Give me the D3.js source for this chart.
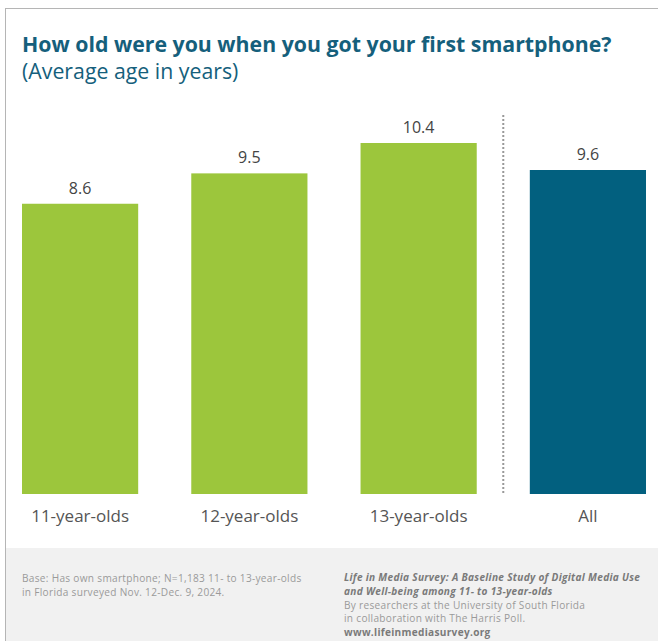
<!DOCTYPE html>
<html>
<head>
<meta charset="utf-8">
<script src="https://cdn.jsdelivr.net/npm/d3@7"></script>
<style>
  html, body { margin: 0; padding: 0; background: #fff; }
  svg { display: block; font-family: "Open Sans", sans-serif; }
</style>
</head>
<body>
<svg id="chart" width="658" height="641"></svg>
<script>
// Average age at first smartphone, by age group
const categories = ["11-year-olds", "12-year-olds", "13-year-olds", "All"];
const values = [8.6, 9.5, 10.4, 9.6];
const barColors = ["#9cc63c", "#9cc63c", "#9cc63c", "#02607f"];

const titleText = "How old were you when you got your first smartphone?";
const subtitleText = "(Average age in years)";
const noteLines = ["Base: Has own smartphone; N=1,183 11- to 13-year-olds",
                   "in Florida surveyed Nov. 12-Dec. 9, 2024."];
const sourceLines = [
  {t: "Life in Media Survey: A Baseline Study of Digital Media Use", s: "bold"},
  {t: "and Well-being among 11- to 13-year-olds", s: "bold"},
  {t: "By researchers at the University of South Florida", s: "plain"},
  {t: "in collaboration with The Harris Poll.", s: "plain"},
  {t: "www.lifeinmediasurvey.org", s: "url"}
];

const W = 658, H = 641;
const svg = d3.select("#chart");

// frame
svg.append("rect").attr("x", 5.5).attr("y", 8.5).attr("width", W).attr("height", H)
  .attr("fill", "#fff").attr("stroke", "#b5b5b5").attr("stroke-width", 1);

// footer band
svg.append("rect").attr("x", 6).attr("y", 548).attr("width", W - 6).attr("height", H - 548)
  .attr("fill", "#f1f1f1");

// title
svg.append("text").attr("x", 22).attr("y", 52)
  .attr("font-size", 21.3).attr("font-weight", 700).attr("fill", "#155f7c")
  .text(titleText);
svg.append("text").attr("x", 22).attr("y", 79)
  .attr("font-size", 21.3).attr("fill", "#155f7c")
  .text(subtitleText);

// scales
const x = d3.scaleBand().domain(categories).range([22, 646]).paddingInner(0.3136).paddingOuter(0);
const y = d3.scaleLinear().domain([0, 10.4]).range([494, 143]);

const g = svg.append("g");
g.selectAll("rect.bar").data(values).join("rect")
  .attr("class", "bar")
  .attr("x", (d, i) => x(categories[i]))
  .attr("y", d => y(d))
  .attr("width", x.bandwidth())
  .attr("height", d => y(0) - y(d))
  .attr("fill", (d, i) => barColors[i]);

g.selectAll("text.val").data(values).join("text")
  .attr("class", "val")
  .attr("x", (d, i) => x(categories[i]) + x.bandwidth() / 2)
  .attr("y", d => y(d) - 10)
  .attr("text-anchor", "middle")
  .attr("font-size", 16).attr("fill", "#444")
  .text(d => d.toFixed(1));

// category axis (labels only)
const xAxis = d3.axisBottom(x).tickSize(0).tickPadding(0);
const ax = svg.append("g").attr("transform", "translate(0,517)").call(xAxis);
ax.select(".domain").remove();
ax.selectAll("text").attr("font-size", 17).attr("fill", "#555")
  .attr("font-family", "Open Sans, sans-serif").attr("dy", "0.32em");

// divider between age groups and total
const divX = (x("13-year-olds") + x.bandwidth() + x("All")) / 2;
svg.append("line").attr("x1", divX).attr("x2", divX).attr("y1", 115).attr("y2", 494)
  .attr("stroke", "#999").attr("stroke-width", 2).attr("stroke-dasharray", "2,2");

// footer notes
const footSize = 10.1, footGap = 13.8;
svg.append("g").selectAll("text").data(noteLines).join("text")
  .attr("x", 22).attr("y", (d, i) => 582 + i * footGap)
  .attr("font-size", footSize).attr("letter-spacing", 0.3)
  .attr("fill", "#9a9a9a").text(d => d);

svg.append("g").selectAll("text").data(sourceLines).join("text")
  .attr("x", 344).attr("y", (d, i) => 581 + i * footGap)
  .attr("font-size", footSize).attr("letter-spacing", 0.3)
  .attr("font-weight", d => d.s === "plain" ? 400 : 700)
  .attr("font-style", d => d.s === "bold" ? "italic" : "normal")
  .attr("fill", d => d.s === "plain" ? "#9a9a9a" : "#7a7a7a")
  .text(d => d.t);
</script>
</body>
</html>
